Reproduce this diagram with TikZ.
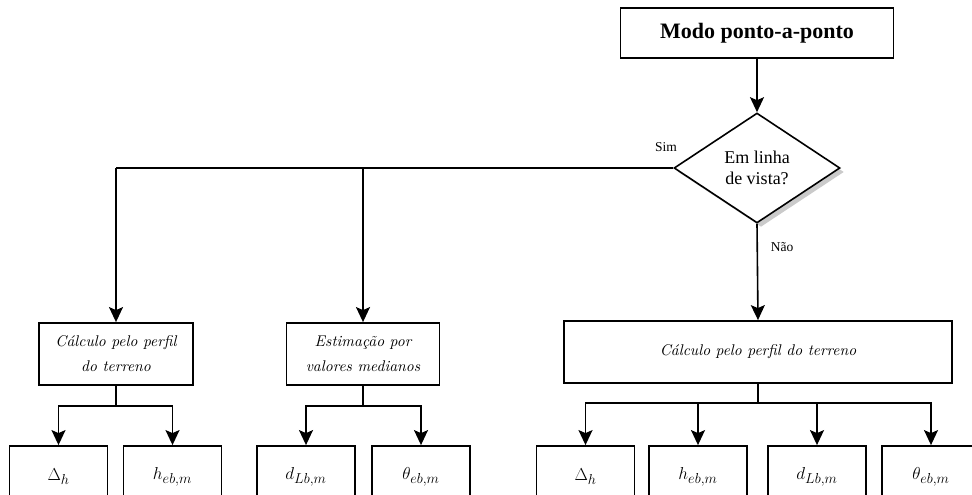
\documentclass[tikz,border=0pt]{standalone}
\usepackage{fontspec}
\usepackage{tikz}
\usetikzlibrary{shapes.geometric, arrows.meta, shadows, positioning}
\newfontfamily\timesfont{Liberation Serif}
\newfontfamily\cmitfont{lmroman10-italic.otf}

\tikzset{
  box/.style={draw, line width=1.8pt, rectangle, inner sep=2pt, align=center},
  outbox/.style={box, minimum width=98pt, minimum height=62pt, font=\fontsize{19}{22}\selectfont},
  midbox/.style={box, minimum height=62pt, font=\cmitfont\fontsize{15.5}{25}\selectfont},
  arr/.style={line width=1.6pt, -{Stealth[length=15pt, width=14pt, inset=3pt]}},
  ln/.style={line width=1.6pt}
}

\begin{document}
\begin{tikzpicture}[x=1pt, y=-1pt]
            \clip (0,0) rectangle (972,495);
            % top of the chart
            \node[box, minimum width=273pt, minimum height=50pt, font=\timesfont\bfseries\fontsize{22}{26}\selectfont] (modo) at (757,33) {Modo ponto-a-ponto};
            \node[draw, line width=1.6pt, diamond, fill=white, minimum width=166pt, minimum height=110pt, inner sep=0pt, align=center,
                  drop shadow={shadow xshift=4pt, shadow yshift=-4pt, fill=gray!70, opacity=0.6},
                  font=\timesfont\fontsize{18}{21.5}\selectfont] (vista) at (757,168) {Em linha\\de vista?};
            \draw[arr] (modo.south) -- (vista.north);
            \node[font=\timesfont\fontsize{13.5}{16}\selectfont] (sim) at (666,147) {Sim};
            \node[font=\timesfont\fontsize{13.5}{16}\selectfont] (nao) at (782,247) {Não};

            % middle boxes
            \node[midbox, minimum width=154pt] (perfilA) at (116,354) {\rule{0pt}{9pt}Cálculo pelo perfil\\do terreno};
            \node[midbox, minimum width=153pt] (medianos) at (363,354) {\rule{0pt}{9pt}Estimação por\\valores medianos};
            \node[midbox, minimum width=388pt] (perfilB) at (758,352) {Cálculo pelo perfil do terreno};

            \draw[ln] (vista.west) -- (116,168) coordinate (simA);
            \coordinate (simB) at (363,168);
            \draw[arr] (simA) -- (perfilA.north);
            \draw[arr] (simB) -- (medianos.north);
            \draw[arr] (vista.south) -- (perfilB.north);

            % outputs
            \node[outbox] (deltaA) at (58.5,477) {$\Delta_h$};
            \node[outbox] (hebA) at (172.5,477) {$h_{eb,m}$};
            \node[outbox] (dlbA) at (306,477) {$d_{Lb,m}$};
            \node[outbox] (thetaA) at (421,477) {$\theta_{eb,m}$};
            \node[outbox] (deltaB) at (585.5,477) {$\Delta_h$};
            \node[outbox] (hebB) at (698,477) {$h_{eb,m}$};
            \node[outbox] (dlbB) at (817,477) {$d_{Lb,m}$};
            \node[outbox] (thetaB) at (931,477) {$\theta_{eb,m}$};

            \draw[ln] (perfilA.south) -- ++(0,20) coordinate (jA);
            \draw[arr] (jA) -| (deltaA.north);
            \draw[arr] (jA) -| (hebA.north);
            \draw[ln] (medianos.south) -- ++(0,20) coordinate (jM);
            \draw[arr] (jM) -| (dlbA.north);
            \draw[arr] (jM) -| (thetaA.north);
            \draw[ln] (perfilB.south) -- ++(0,19) coordinate (jB);
            \foreach \n in {deltaB, hebB, dlbB, thetaB}
                \draw[arr] (jB) -| (\n.north);
        \end{tikzpicture}
\end{document}
